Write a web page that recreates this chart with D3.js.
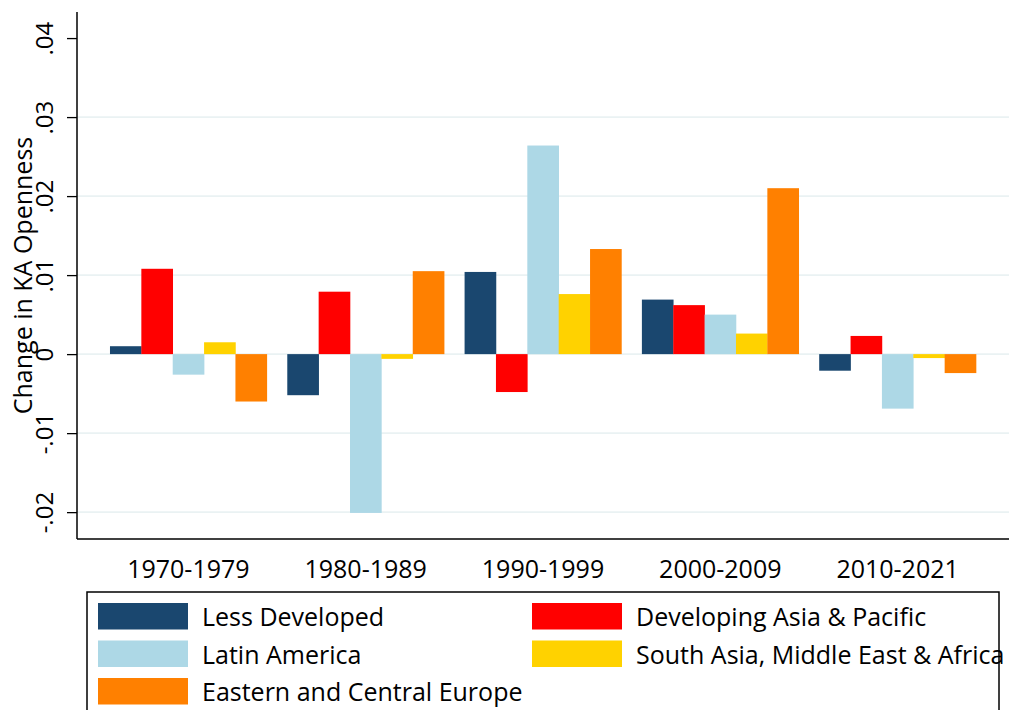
<!DOCTYPE html>
<html>
<head>
<meta charset="utf-8">
<script src="https://cdn.jsdelivr.net/npm/d3@7"></script>
<style>
  body { margin: 0; background: #fff; }
  text { font-family: "Open Sans", "Noto Sans", sans-serif; fill: #000; }
</style>
</head>
<body>
<svg id="svg"></svg>
<script>

const width = 1017;
const height = 710;

// decades on the x axis
const periods = ["1970-1979", "1980-1989", "1990-1999", "2000-2009", "2010-2021"];
const regions = [
  "Less Developed",
  "Developing Asia & Pacific",
  "Latin America",
  "South Asia, Middle East & Africa",
  "Eastern and Central Europe"
];
const colors = ["#1a476f", "#ff0000", "#add8e6", "#ffd200", "#ff8000"];

// one array per region, in period order
const lessDeveloped = [0.0010, -0.0052, 0.0104, 0.0069, -0.0021];
const devAsia       = [0.0108, 0.0079, -0.0048, 0.0062, 0.0023];
const latinAmerica  = [-0.0026, -0.0201, 0.0264, 0.0050, -0.0069];
const southAsia     = [0.0015, -0.0006, 0.0076, 0.0026, -0.0005];
const easternEurope = [-0.0060, 0.0105, 0.0133, 0.0210, -0.0024];

const yTicks = [-0.02, -0.01, 0, 0.01, 0.02, 0.03, 0.04];
const yTickLabels = ["-.02", "-.01", "0", ".01", ".02", ".03", ".04"];

const series = [lessDeveloped, devAsia, latinAmerica, southAsia, easternEurope];

const plot = { left: 77, right: 1009, top: 12, bottom: 539 };

const svg = d3.select("#svg")
  .attr("width", width)
  .attr("height", height);

const x0 = d3.scaleBand()
  .domain(periods)
  .range([plot.left, plot.right])
  .paddingInner(0.1155)
  .paddingOuter(0.186);

const x1 = d3.scaleBand()
  .domain(d3.range(regions.length))
  .range([0, x0.bandwidth()]);

const y = d3.scaleLinear()
  .domain([-0.0234, 0.0433])
  .range([plot.bottom, plot.top]);

// grid lines (none on the top tick)
svg.append("g")
  .selectAll("line")
  .data(yTicks.filter(t => t < 0.04))
  .enter().append("line")
  .attr("x1", plot.left)
  .attr("x2", plot.right)
  .attr("y1", d => y(d))
  .attr("y2", d => y(d))
  .style("stroke", "#eaf2f3")
  .style("stroke-width", 1.6);

// bars
const groups = svg.append("g")
  .selectAll("g")
  .data(periods)
  .enter().append("g")
  .attr("transform", d => `translate(${x0(d)},0)`);

groups.selectAll("rect")
  .data((p, i) => series.map((s, k) => ({ k: k, v: s[i] })))
  .enter().append("rect")
  .attr("x", d => x1(d.k))
  .attr("width", x1.bandwidth() + 0.3)
  .attr("y", d => y(Math.max(0, d.v)))
  .attr("height", d => Math.abs(y(d.v) - y(0)))
  .style("fill", d => colors[d.k]);

// y axis
const yAxis = d3.axisLeft(y)
  .tickValues(yTicks)
  .tickSize(10)
  .tickFormat((d, i) => yTickLabels[i]);

const yg = svg.append("g")
  .attr("transform", `translate(${plot.left},0)`)
  .call(yAxis);

yg.select(".domain")
  .attr("d", `M0,${plot.top}V${plot.bottom}`)
  .style("stroke", "#000")
  .style("stroke-width", 1.5);
yg.selectAll(".tick line").style("stroke", "#000").style("stroke-width", 1.3);
yg.selectAll(".tick text")
  .attr("x", null).attr("dy", null)
  .attr("transform", "translate(-24,0) rotate(-90)")
  .attr("text-anchor", "middle")
  .style("font-size", "24px")
  .style("font-family", "'Open Sans', sans-serif");

// x axis line and labels
svg.append("line")
  .attr("x1", plot.left).attr("x2", plot.right)
  .attr("y1", plot.bottom).attr("y2", plot.bottom)
  .style("stroke", "#000")
  .style("stroke-width", 1.5);

svg.append("g")
  .selectAll("text")
  .data(periods)
  .enter().append("text")
  .attr("x", d => x0(d) + x0.bandwidth() / 2)
  .attr("y", 578)
  .attr("text-anchor", "middle")
  .style("font-size", "25px")
  .text(d => d);

// y title
svg.append("text")
  .attr("transform", `translate(32,${(plot.top + plot.bottom) / 2}) rotate(-90)`)
  .attr("text-anchor", "middle")
  .style("font-size", "25px")
  .text("Change in KA Openness");

// legend
const legend = svg.append("g");
legend.append("rect")
  .attr("x", 87).attr("y", 592)
  .attr("width", 912).attr("height", 140)
  .style("fill", "none")
  .style("stroke", "#000")
  .style("stroke-width", 1.5);

const items = legend.selectAll("g.item")
  .data(regions)
  .enter().append("g")
  .attr("class", "item")
  .attr("transform", (d, i) => `translate(${i % 2 === 0 ? 98 : 532},${603 + Math.floor(i / 2) * 37.5})`);

items.append("rect")
  .attr("width", 90)
  .attr("height", 26.5)
  .style("fill", (d, i) => colors[i]);

items.append("text")
  .attr("x", 104)
  .attr("y", 23)
  .style("font-size", "25px")
  .text(d => d);

</script>
</body>
</html>
